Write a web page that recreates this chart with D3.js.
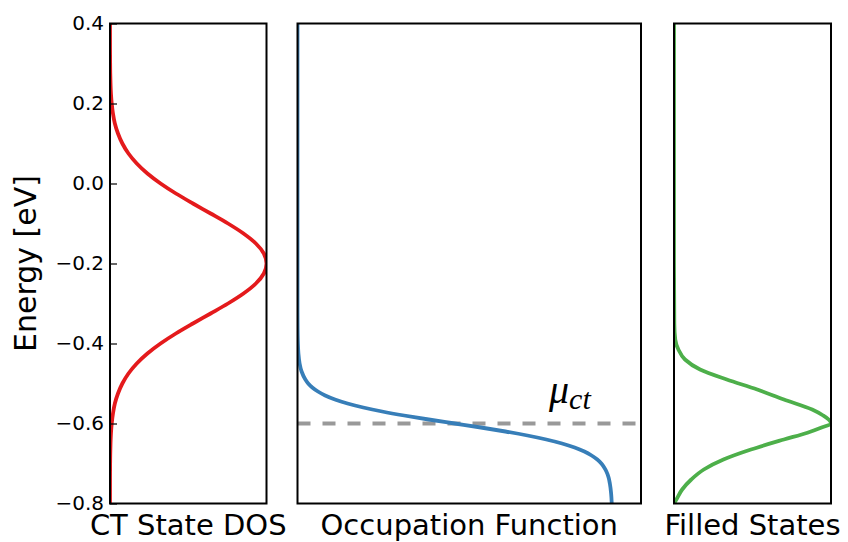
<!DOCTYPE html>
<html>
<head>
<meta charset="utf-8">
<script src="https://cdn.jsdelivr.net/npm/d3@7/dist/d3.min.js"></script>
<style>
  html, body { margin: 0; padding: 0; background: #fff; }
  svg { display: block; }
</style>
</head>
<body>
<script>
// ---- data ----
const energyTicks = [0.4, 0.2, 0.0, -0.2, -0.4, -0.6, -0.8];
const panelLabels = ["CT State DOS", "Occupation Function", "Filled States"];
const muCT = -0.6;

// CT state density of states (normalised)
const dosEnergy = [0.4, 0.375, 0.35, 0.325, 0.3, 0.275, 0.25, 0.225, 0.2, 0.175, 0.15, 0.125, 0.1, 0.075, 0.05, 0.025, 0.0,
  -0.025, -0.05, -0.075, -0.1, -0.125, -0.15, -0.175, -0.2,
  -0.225, -0.25, -0.275, -0.3, -0.325, -0.35, -0.375, -0.4, -0.425, -0.45, -0.475, -0.5, -0.525, -0.55, -0.575, -0.6,
  -0.625, -0.65, -0.675, -0.7, -0.725, -0.75, -0.775, -0.8];
const dosValue = [0.0, 0.0001, 0.0002, 0.0004, 0.0009, 0.0017, 0.0033, 0.0061, 0.011, 0.019, 0.031, 0.051, 0.079, 0.118, 0.171, 0.239, 0.323,
  0.421, 0.530, 0.643, 0.754, 0.853, 0.932, 0.983, 1.0,
  0.983, 0.932, 0.853, 0.754, 0.643, 0.530, 0.421, 0.323, 0.239, 0.171, 0.118, 0.079, 0.051, 0.031, 0.019, 0.011,
  0.0061, 0.0033, 0.0017, 0.0009, 0.0004, 0.0002, 0.0001, 0.0];

// occupation function
const occEnergy = [0.4, 0.0, -0.2, -0.3, -0.35, -0.4, -0.425, -0.45, -0.47, -0.49, -0.5, -0.51, -0.52, -0.53, -0.54, -0.55,
  -0.56, -0.57, -0.58, -0.59, -0.6, -0.61, -0.62, -0.63, -0.64, -0.65, -0.66, -0.67, -0.68, -0.69, -0.7, -0.71, -0.72,
  -0.735, -0.75, -0.775, -0.8];
const occValue = [0, 0, 0, 0.0, 0.0002, 0.0013, 0.0029, 0.0067, 0.013, 0.025, 0.034, 0.047, 0.065, 0.088, 0.119, 0.159,
  0.209, 0.269, 0.339, 0.417, 0.5, 0.583, 0.661, 0.731, 0.791, 0.841, 0.881, 0.912, 0.935, 0.953, 0.966, 0.975, 0.982,
  0.989, 0.993, 0.997, 0.999];

// filled states (normalised)
const filledEnergy = [0.4, 0.0, -0.2, -0.35, -0.39, -0.415, -0.44, -0.465, -0.49, -0.515, -0.54, -0.565, -0.58, -0.59, -0.6,
  -0.61, -0.623, -0.64, -0.665, -0.69, -0.715, -0.74, -0.765, -0.79, -0.8];
const filledValue = [0, 0, 0, 0.002, 0.008, 0.028, 0.07, 0.166, 0.336, 0.53, 0.70, 0.88, 0.95, 0.985, 1.0,
  0.94, 0.85, 0.70, 0.49, 0.315, 0.19, 0.11, 0.052, 0.015, 0.0];

// ---- layout ----
const W = 848, H = 542;
const yTop = 23.5, yBot = 503.5;
const panels = [
  { x0: 110, x1: 266.5, xmax: 1.0, E: dosEnergy, V: dosValue, color: "#e41a1c" },
  { x0: 297.5, x1: 641, xmax: 1.092, E: occEnergy, V: occValue, color: "#377eb8" },
  { x0: 674, x1: 831, xmax: 1.0, E: filledEnergy, V: filledValue, color: "#4daf4a" }
];

const svg = d3.select("body").append("svg")
  .attr("width", W).attr("height", H)
  .attr("viewBox", `0 0 ${W} ${H}`);

const y = d3.scaleLinear().domain([-0.8, 0.4]).range([yBot, yTop]);
const defs = svg.append("defs");

panels.forEach((p, i) => {
  const x = d3.scaleLinear().domain([0, p.xmax]).range([p.x0, p.x1]);
  const g = svg.append("g");
  defs.append("clipPath").attr("id", "clip" + i)
    .append("rect").attr("x", p.x0).attr("y", yTop).attr("width", p.x1 - p.x0).attr("height", yBot - yTop);

  const pts = p.E.map((e, k) => [p.V[k], e]);
  const line = d3.line().x(d => x(d[0])).y(d => y(d[1])).curve(d3.curveMonotoneY);

  const plot = g.append("g").attr("clip-path", `url(#clip${i})`);

  if (i === 1) {
    plot.append("line")
      .attr("x1", p.x0).attr("x2", p.x1)
      .attr("y1", y(muCT)).attr("y2", y(muCT))
      .attr("stroke", "#999999").attr("stroke-width", 4)
      .attr("stroke-dasharray", "13,12");
  }

  plot.append("path").datum(pts)
    .attr("d", line)
    .attr("fill", "none")
    .attr("stroke", p.color)
    .attr("stroke-width", 3.8)
    .attr("stroke-linejoin", "round");

  g.append("rect")
    .attr("x", p.x0).attr("y", yTop)
    .attr("width", p.x1 - p.x0).attr("height", yBot - yTop)
    .attr("fill", "none").attr("stroke", "#000").attr("stroke-width", 2);

  g.append("text")
    .attr("x", (p.x0 + p.x1) / 2).attr("y", 535)
    .attr("text-anchor", "middle")
    .style("font-family", "DejaVu Sans").style("font-size", "29px")
    .attr("fill", "#000")
    .text(panelLabels[i]);

  if (i === 0) {
    const axis = d3.axisLeft(y).tickValues(energyTicks)
      .tickSize(-7).tickPadding(6)
      .tickFormat(d => d3.format(".1f")(d).replace("-", "\u2212"));
    const ax = g.append("g").attr("transform", `translate(${p.x0},0)`).call(axis);
    ax.attr("font-size", null).attr("font-family", null);
    ax.select(".domain").remove();
    ax.selectAll(".tick line").attr("stroke", "#000").attr("stroke-width", 1.2);
    ax.selectAll(".tick text")
      .style("font-family", "DejaVu Sans").style("font-size", "20px").attr("fill", "#000");
  }
});

// y-axis title
svg.append("text")
  .attr("transform", `translate(36,${(yTop + yBot) / 2}) rotate(-90)`)
  .attr("text-anchor", "middle")
  .style("font-family", "DejaVu Sans").style("font-size", "30px")
  .attr("fill", "#000")
  .text("Energy [eV]");

// mu_ct label
const mu = svg.append("text")
  .attr("x", 549).attr("y", 403)
  .style("font-family", "Liberation Serif, DejaVu Serif, serif")
  .style("font-style", "italic")
  .style("font-size", "40px")
  .attr("fill", "#000");
mu.append("tspan").text("\u03bc");
mu.append("tspan").style("font-size", "30px").attr("dy", 6).text("ct");
</script>
</body>
</html>
